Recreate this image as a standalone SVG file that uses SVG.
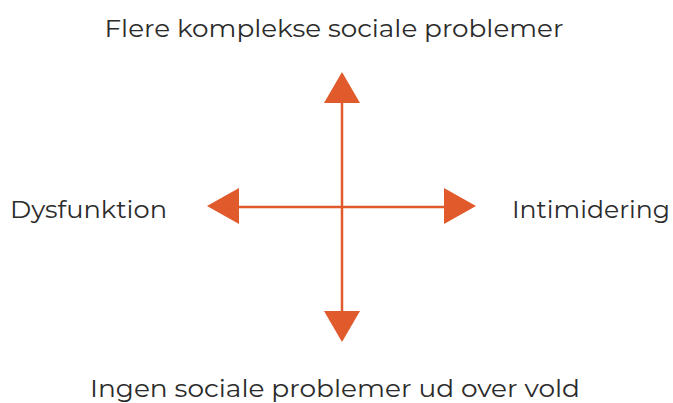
<svg xmlns="http://www.w3.org/2000/svg" width="673" height="403" viewBox="0 0 673 403">
<style>
.lbl{font-family:"Montserrat","Noto Sans","Liberation Sans",sans-serif;font-size:25px;fill:#2b2b2b;}
.ln{stroke:#E05A2B;stroke-width:2.5;fill:none;}
.hd{fill:#E05A2B;}
</style>
<rect width="673" height="403" fill="#ffffff"/>
<g id="connectors">
<line class="ln" x1="342" y1="100" x2="342" y2="313"/>
<line class="ln" x1="237" y1="207" x2="446" y2="207"/>
<polygon class="hd" points="342,72 360,103 324,103"/>
<polygon class="hd" points="342,342 360,311 324,311"/>
<polygon class="hd" points="207,206 239,188 239,224"/>
<polygon class="hd" points="476,206 444,188 444,224"/>
</g>
<g id="top"><text class="lbl" x="334" y="37" text-anchor="middle" textLength="459" lengthAdjust="spacingAndGlyphs">Flere komplekse sociale problemer</text></g>
<g id="left"><text class="lbl" x="10" y="218" textLength="157" lengthAdjust="spacingAndGlyphs">Dysfunktion</text></g>
<g id="right"><text class="lbl" x="512" y="218" textLength="158" lengthAdjust="spacingAndGlyphs">Intimidering</text></g>
<g id="bottom"><text class="lbl" x="335" y="397" text-anchor="middle" textLength="490" lengthAdjust="spacingAndGlyphs">Ingen sociale problemer ud over vold</text></g>
</svg>
